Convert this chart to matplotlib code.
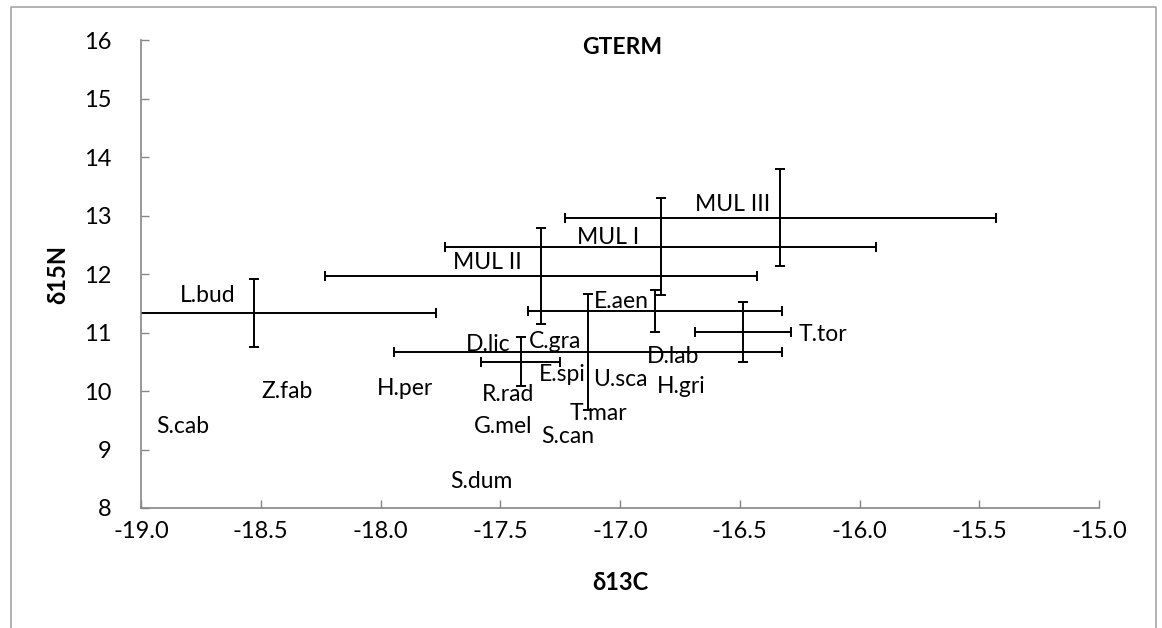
import matplotlib
matplotlib.use("Agg")
import matplotlib.pyplot as plt
from matplotlib.lines import Line2D

plt.rcParams['font.family'] = ['Lato', 'Noto Sans', 'DejaVu Sans']
plt.rcParams['axes.unicode_minus'] = False

# species with mean +/- SD error bars
eb_names = ['L.bud', 'MUL II', 'MUL I', 'MUL III', 'E.aen', 'T.tor', 'D.lic', 'C.gra']
eb_c13 = [-18.53, -17.33, -16.83, -16.33, -16.855, -16.485, -17.415, -17.135]
eb_n15 = [11.33, 11.97, 12.47, 12.96, 11.375, 11.01, 10.50, 10.665]
eb_c13_sd = [0.76, 0.90, 0.90, 0.90, 0.53, 0.20, 0.165, 0.81]
eb_n15_sd = [0.58, 0.82, 0.83, 0.83, 0.36, 0.51, 0.42, 0.99]

# single samples, label only
pt_names = ['S.cab', 'Z.fab', 'H.per', 'E.spi', 'U.sca', 'H.gri', 'D.lab',
            'R.rad', 'T.mar', 'G.mel', 'S.can', 'S.dum']
pt_c13 = [-18.825, -18.39, -17.896, -17.242, -17.0, -16.746, -16.777,
          -17.469, -17.088, -17.486, -17.22, -17.579]
pt_n15 = [9.385, 9.99, 10.046, 10.286, 10.2, 10.074, 10.586,
          9.932, 9.62, 9.39, 9.218, 8.45]

# label placement for the error-bar species (pixels from the mean)
label_offsets = {
    'L.bud': (-46, 18), 'MUL II': (-54, 13), 'MUL I': (-53, 9),
    'MUL III': (-48, 13), 'E.aen': (-33, 9), 'T.tor': (80, -3),
    'D.lic': (-32, 17), 'C.gra': (-33, 11),
}

W, H = 1162, 628
fig = plt.figure(figsize=(W / 100, H / 100), dpi=100)
ax = fig.add_axes([141 / W, 1 - 508 / H, 958 / W, 468 / H])

ax.errorbar(eb_c13, eb_n15, xerr=eb_c13_sd, yerr=eb_n15_sd, fmt='none',
            ecolor='black', elinewidth=1.4, capsize=3.5, capthick=1.4)

for name, x, y in zip(eb_names, eb_c13, eb_n15):
    dx, dy = label_offsets[name]
    ax.annotate(name, (x, y), xytext=(dx, dy), textcoords='offset pixels',
                ha='center', va='center', fontsize=16.5, annotation_clip=False)

for name, x, y in zip(pt_names, pt_c13, pt_n15):
    ax.text(x, y, name, ha='center', va='center', fontsize=16.5)

ax.set_xlim(-19, -15)
ax.set_ylim(8, 16)
ax.set_xticks([-19 + 0.5 * i for i in range(9)])
ax.set_yticks(range(8, 17))
ax.set_xticklabels(['%.1f' % t for t in ax.get_xticks()])
ax.tick_params(direction='in', length=6, width=1, color='#868686',
               labelsize=17)
ax.tick_params(axis='x', pad=9)
ax.tick_params(axis='y', pad=21)

for side in ['top', 'right']:
    ax.spines[side].set_visible(False)
for side in ['left', 'bottom']:
    ax.spines[side].set_color('#868686')
    ax.spines[side].set_linewidth(1.2)

ax.text(0.502, 0.983, 'GTERM', transform=ax.transAxes, ha='center',
        va='center', fontsize=16.5, fontweight='bold')
fig.text(620 / W, 1 - 583 / H, 'δ13C', ha='center', va='center',
         fontsize=17, fontweight='bold')
fig.text(58 / W, 1 - 274 / H, 'δ15N', ha='center', va='center',
         fontsize=17, fontweight='bold', rotation=90)

# chart area border (open at the bottom)
bx = [11 / W, 11 / W, 1156 / W, 1156 / W]
by = [0, 1 - 7 / H, 1 - 7 / H, 0]
fig.add_artist(Line2D(bx, by, color='#a6a6a6', lw=1.2,
                      transform=fig.transFigure))

fig.savefig('out.png', dpi=100)
